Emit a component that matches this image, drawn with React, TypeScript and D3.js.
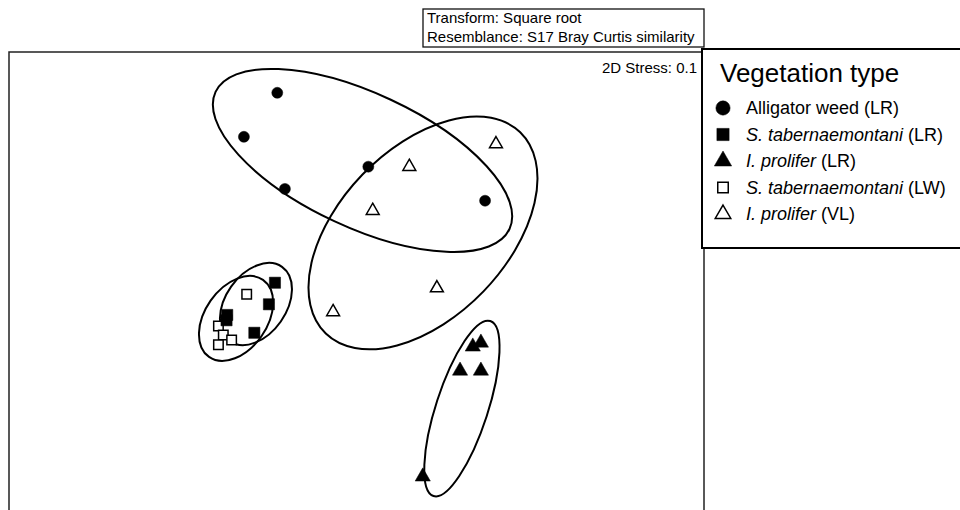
import React, { useEffect, useRef } from 'react';
import * as d3 from 'd3';

// nMDS coordinates per vegetation type
const alligatorX = [-0.342, -0.486, 0.051, -0.309, 0.555];
const alligatorY = [0.824, 0.634, 0.505, 0.409, 0.358];
const stabLRX = [-0.352, -0.378, -0.558, -0.561, -0.441];
const stabLRY = [0.004, -0.089, -0.135, -0.158, -0.212];
const iproLRX = [0.537, 0.502, 0.447, 0.537, 0.286];
const iproLRY = [-0.255, -0.272, -0.376, -0.376, -0.833];
const stabLWX = [-0.474, -0.596, -0.575, -0.539, -0.596];
const stabLWY = [-0.046, -0.183, -0.222, -0.243, -0.264];
const iproVLX = [0.602, 0.228, 0.07, 0.347, -0.101];
const iproVLY = [0.603, 0.505, 0.315, -0.019, -0.122];

// cluster envelopes: centre, radii (data units), tilt in degrees
const envCx = [0.026, 0.287, 0.455, -0.434, -0.52];
const envCy = [0.532, 0.219, -0.539, -0.088, -0.15];
const envRx = [0.7, 0.604, 0.397, 0.196, 0.203];
const envRy = [0.289, 0.363, 0.112, 0.131, 0.134];
const envTilt = [25, -46, -72, -55, -55];

const groupNames = ['Alligator weed', 'S. tabernaemontani', 'I. prolifer', 'S. tabernaemontani', 'I. prolifer'];
const groupSites = ['(LR)', '(LR)', '(LR)', '(LW)', '(VL)'];
const groupItalic = [false, true, true, true, true];

const transformText = ['Transform: Square root', 'Resemblance: S17 Bray Curtis similarity'];
const stressText = '2D Stress: 0.1';
const legendTitle = 'Vegetation type';

const App = () => {
  const chartRef = useRef<SVGSVGElement>(null);

  useEffect(() => {
    const font = '"Liberation Sans", Arial, sans-serif';
    const frame = { left: 9, top: 52, right: 704 };
    const unit = (frame.right - frame.left) / 3;

    const x = d3.scaleLinear().domain([-1.5, 1.5]).range([frame.left, frame.right]);
    const y = d3.scaleLinear().domain([-1, 1]).range([frame.top + 2 * unit, frame.top]);

    const svg = d3.select(chartRef.current);
    svg.selectAll('*').remove();
    svg.style('font-family', font);

    // plot frame (bottom edge falls outside the picture)
    svg.append('rect')
      .attr('x', frame.left)
      .attr('y', frame.top)
      .attr('width', frame.right - frame.left)
      .attr('height', 2 * unit + 10)
      .attr('fill', 'white')
      .attr('stroke', '#222')
      .attr('stroke-width', 1.5);

    // transform / resemblance box
    svg.append('rect')
      .attr('x', 423).attr('y', 9)
      .attr('width', 281).attr('height', 38)
      .attr('fill', 'white')
      .attr('stroke', '#111')
      .attr('stroke-width', 1.3);
    svg.append('g')
      .selectAll('text')
      .data(transformText)
      .enter()
      .append('text')
      .attr('x', 427)
      .attr('y', (d, i) => 23 + i * 19)
      .attr('font-size', 15)
      .text(d => d);

    svg.append('text')
      .attr('x', frame.right - 7)
      .attr('y', 73)
      .attr('text-anchor', 'end')
      .attr('font-size', 15)
      .text(stressText);

    // envelopes
    const envs = envCx.map((cx, i) => ({ cx, cy: envCy[i], rx: envRx[i], ry: envRy[i], tilt: envTilt[i] }));
    svg.append('g')
      .selectAll('ellipse')
      .data(envs)
      .enter()
      .append('ellipse')
      .attr('transform', d => `translate(${x(d.cx)},${y(d.cy)}) rotate(${d.tilt})`)
      .attr('rx', d => x(d.rx) - x(0))
      .attr('ry', d => y(0) - y(d.ry))
      .attr('fill', 'none')
      .attr('stroke', 'black')
      .attr('stroke-width', 2);

    // points
    const groups = [
      { xs: alligatorX, ys: alligatorY, type: d3.symbolCircle, size: 95, fill: 'black' },
      { xs: stabLWX, ys: stabLWY, type: d3.symbolSquare, size: 90, fill: 'white' },
      { xs: stabLRX, ys: stabLRY, type: d3.symbolSquare, size: 125, fill: 'black' },
      { xs: iproLRX, ys: iproLRY, type: d3.symbolTriangle, size: 100, fill: 'black' },
      { xs: iproVLX, ys: iproVLY, type: d3.symbolTriangle, size: 72, fill: 'white' },
    ];
    groups.forEach(g => {
      const path = d3.symbol().type(g.type).size(g.size)();
      svg.append('g')
        .selectAll('path')
        .data(g.xs.map((v, i) => [v, g.ys[i]]))
        .enter()
        .append('path')
        .attr('d', path)
        .attr('transform', d => `translate(${x(d[0])},${y(d[1])})`)
        .attr('fill', g.fill)
        .attr('stroke', 'black')
        .attr('stroke-width', g.fill === 'white' ? 1.5 : 0.5);
    });

    // legend
    const legend = svg.append('g');
    legend.append('rect')
      .attr('x', 702).attr('y', 49)
      .attr('width', 270).attr('height', 199)
      .attr('fill', 'white')
      .attr('stroke', 'black')
      .attr('stroke-width', 2);
    legend.append('text')
      .attr('x', 720).attr('y', 82)
      .attr('font-size', 26)
      .text(legendTitle);

    const legendSymbols = [
      { type: d3.symbolCircle, size: 160, fill: 'black' },
      { type: d3.symbolSquare, size: 150, fill: 'black' },
      { type: d3.symbolTriangle, size: 130, fill: 'black' },
      { type: d3.symbolSquare, size: 110, fill: 'white' },
      { type: d3.symbolTriangle, size: 105, fill: 'white' },
    ];
    const rowY = d3.scaleLinear().domain([0, 4]).range([108, 214]);
    const rows = legend.selectAll('g.row')
      .data(groupNames)
      .enter()
      .append('g')
      .attr('class', 'row')
      .attr('transform', (d, i) => `translate(0,${rowY(i)})`);
    rows.append('path')
      .attr('d', (d, i) => d3.symbol().type(legendSymbols[i].type).size(legendSymbols[i].size)())
      .attr('transform', 'translate(723,0)')
      .attr('fill', (d, i) => legendSymbols[i].fill)
      .attr('stroke', 'black')
      .attr('stroke-width', (d, i) => (legendSymbols[i].fill === 'white' ? 1.5 : 0.5));
    const labels = rows.append('text')
      .attr('x', 746)
      .attr('y', 6)
      .attr('font-size', 18);
    labels.append('tspan')
      .attr('font-style', (d, i) => (groupItalic[i] ? 'italic' : 'normal'))
      .text(d => d);
    labels.append('tspan')
      .text((d, i) => ' ' + groupSites[i]);

    return () => {
      d3.select(chartRef.current).selectAll('*').remove();
    };
  }, []);

  return (
    <svg
      ref={chartRef}
      width={960}
      height={510}
      style={{ position: 'absolute', left: 0, top: 0, background: 'white' }}
    />
  );
};

export default App;
